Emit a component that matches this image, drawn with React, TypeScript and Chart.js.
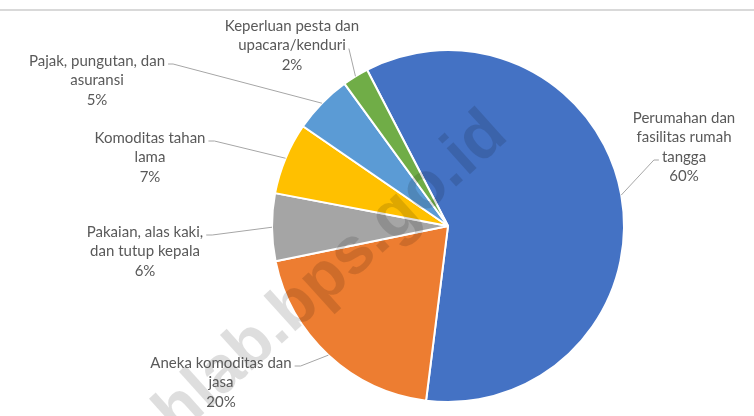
import React, { useEffect, useRef } from "react";
import { Chart, registerables } from "chart.js";

Chart.register(...registerables);

// ---- data ----
const categories: string[][] = [
  ["Perumahan dan", "fasilitas rumah", "tangga"],
  ["Aneka komoditas dan", "jasa"],
  ["Pakaian, alas kaki,", "dan tutup kepala"],
  ["Komoditas tahan", "lama"],
  ["Pajak, pungutan, dan", "asuransi"],
  ["Keperluan pesta dan", "upacara/kenduri"],
];
const values: number[] = [59.6, 19.8, 6.2, 6.6, 5.4, 2.4];
const colors: string[] = ["#4472C4", "#ED7D31", "#A5A5A5", "#FFC000", "#5B9BD5", "#70AD47"];
const watermarkText = "hlab.bps.go.id";

// ---- label layout (text block position, leader attach) ----
const labelLayout = [
  { x: 684, y: 118, line: 2, side: "left", stub: 5 },
  { x: 221, y: 363, line: 0, side: "right", stub: 6 },
  { x: 145, y: 232, line: 0, side: "right", stub: 6 },
  { x: 150, y: 138, line: 0, side: "right", stub: 6 },
  { x: 97, y: 61, line: 0, side: "right", stub: 5 },
  { x: 292, y: 26, line: 1, side: "right", stub: 0 },
];
const LINE_H = 19.5;
const FONT = "15px Lato";
const TEXT_COLOR = "#595959";

const labelPlugin = {
  id: "excelLabels",
  beforeDraw(chart: any) {
    const ctx = chart.ctx;
    ctx.save();
    ctx.fillStyle = "#d9d9d9";
    ctx.fillRect(0, 9, chart.width, 2);
    ctx.restore();
  },
  afterDatasetsDraw(chart: any) {
    const ctx = chart.ctx;
    const meta = chart.getDatasetMeta(0);
    const total = values.reduce((a, b) => a + b, 0);

    // watermark
    ctx.save();
    ctx.translate(510, 138);
    ctx.rotate((-42 * Math.PI) / 180);
    ctx.font = "bold 66px 'Liberation Sans'";
    ctx.fillStyle = "rgba(0,0,0,0.13)";
    ctx.textAlign = "right";
    ctx.textBaseline = "alphabetic";
    ctx.fillText(watermarkText, 0, 0);
    ctx.restore();

    ctx.save();
    ctx.font = FONT;
    ctx.textAlign = "center";
    ctx.textBaseline = "middle";
    meta.data.forEach((arc: any, i: number) => {
      const lay = labelLayout[i];
      const lines = [...categories[i], Math.round((values[i] / total) * 100) + "%"];
      ctx.fillStyle = TEXT_COLOR;
      lines.forEach((ln, k) => ctx.fillText(ln, lay.x, lay.y + k * LINE_H));

      // leader line
      const p = arc.getProps(["x", "y", "startAngle", "endAngle", "outerRadius"], true);
      const mid = (p.startAngle + p.endAngle) / 2;
      const ex = p.x + Math.cos(mid) * p.outerRadius;
      const ey = p.y + Math.sin(mid) * p.outerRadius;
      const w = ctx.measureText(lines[lay.line]).width;
      const dir = lay.side === "right" ? 1 : -1;
      const ax = lay.x + dir * (w / 2 + 3);
      const ay = lay.y + lay.line * LINE_H + 3;
      ctx.beginPath();
      ctx.strokeStyle = "#a6a6a6";
      ctx.lineWidth = 1;
      ctx.moveTo(ax, ay);
      if (lay.stub) ctx.lineTo(ax + dir * lay.stub, ay);
      ctx.lineTo(ex, ey);
      ctx.stroke();
    });
    ctx.restore();
  },
};

export default function App() {
  const ref = useRef<HTMLCanvasElement | null>(null);
  useEffect(() => {
    if (!ref.current) return;
    const chart = new Chart(ref.current, {
      type: "pie",
      data: {
        labels: categories,
        datasets: [
          {
            data: values,
            backgroundColor: colors,
            borderColor: "#ffffff",
            borderWidth: 2,
            radius: 176,
          } as any,
        ],
      },
      options: {
        animation: false,
        responsive: false,
        rotation: -27.4,
        layout: { padding: { left: 142, right: 0, top: 36, bottom: 0 } },
        plugins: {
          legend: { display: false },
          tooltip: { enabled: false },
        },
      },
      plugins: [labelPlugin],
    });
    return () => chart.destroy();
  }, []);
  return (
    <div style={{ position: "absolute", left: 0, top: 0, width: 754, height: 416, background: "#fff" }}>
      <canvas ref={ref} width={754} height={416} />
    </div>
  );
}
